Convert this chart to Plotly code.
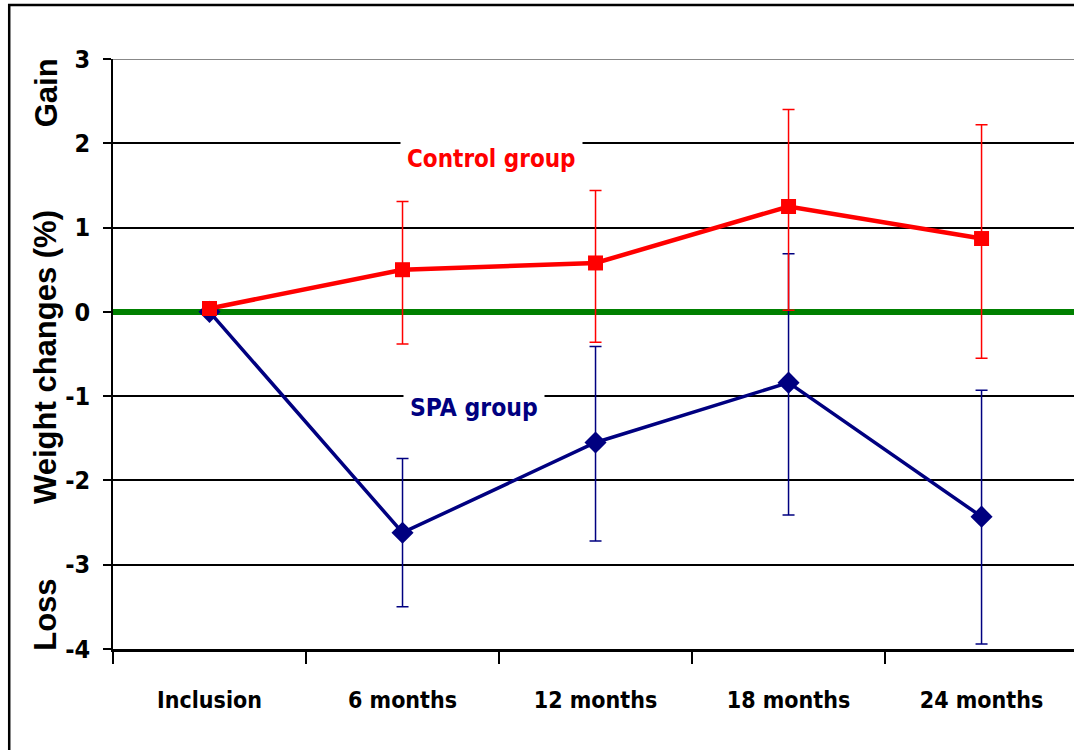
import plotly.graph_objects as go

# Follow-up time points
categories = ["Inclusion", "6 months", "12 months", "18 months", "24 months"]

# Mean weight change (%) and error bar extents per group
control_mean = [0.04, 0.50, 0.58, 1.25, 0.87]
control_err_plus = [0.0, 0.81, 0.86, 1.15, 1.35]
control_err_minus = [0.0, 0.88, 0.94, 1.23, 1.42]

spa_mean = [0.0, -2.62, -1.55, -0.84, -2.43]
spa_err_plus = [0.0, 0.88, 1.14, 1.53, 1.50]
spa_err_minus = [0.0, 0.88, 1.17, 1.57, 1.51]

y_ticks = [3, 2, 1, 0, -1, -2, -3, -4]

RED = "#ff0000"
NAVY = "#000080"
GREEN = "#008000"
NARROW = "DejaVu Sans Condensed, Liberation Sans Narrow, sans-serif"
WIDE = "Liberation Sans, Arial, sans-serif"

fig = go.Figure()

fig.add_trace(go.Scatter(
    x=categories, y=spa_mean, mode="lines+markers", name="SPA group",
    line=dict(color=NAVY, width=3.5),
    marker=dict(symbol="diamond", size=17, color=NAVY),
    error_y=dict(type="data", symmetric=False, array=spa_err_plus,
                 arrayminus=spa_err_minus, color=NAVY, thickness=1.5, width=6),
    cliponaxis=False,
))

fig.add_trace(go.Scatter(
    x=categories, y=control_mean, mode="lines+markers", name="Control group",
    line=dict(color=RED, width=4.5),
    marker=dict(symbol="square", size=15, color=RED),
    error_y=dict(type="data", symmetric=False, array=control_err_plus,
                 arrayminus=control_err_minus, color=RED, thickness=1.5, width=6),
    cliponaxis=False,
))

fig.update_layout(
    width=1074, height=750,
    margin=dict(l=113, r=0, t=59, b=101),
    paper_bgcolor="white", plot_bgcolor="white",
    showlegend=False,
    xaxis=dict(
        type="category", categoryorder="array", categoryarray=categories,
        range=[-0.5, 4.479], tickson="boundaries",
        showgrid=False, showline=True, linecolor="black", linewidth=3,
        ticks="outside", ticklen=12, tickwidth=1.5, tickcolor="black",
        ticklabelstandoff=28,
        tickfont=dict(family=NARROW, size=23, color="black", weight="bold"),
    ),
    yaxis=dict(
        range=[-4, 3], tickvals=y_ticks, ticktext=[str(v) for v in y_ticks],
        showgrid=True, gridcolor="black", gridwidth=2,
        zeroline=True, zerolinecolor=GREEN, zerolinewidth=6,
        showline=True, linecolor="black", linewidth=1.5,
        ticks="outside", ticklen=8, tickwidth=1.5, tickcolor="black",
        ticklabelstandoff=8,
        tickfont=dict(family=NARROW, size=25, color="black", weight="bold"),
    ),
    shapes=[
        # gray top gridline
        dict(type="line", xref="paper", yref="y", x0=0, x1=1, y0=3, y1=3,
             line=dict(color="#888888", width=2), layer="between"),
        # outer frame
        dict(type="rect", xref="paper", yref="paper", x0=-0.108, x1=1.05,
             y0=-0.3, y1=1.0915, line=dict(color="black", width=2.5),
             fillcolor="rgba(0,0,0,0)", layer="above"),
    ],
    annotations=[
        dict(text="Control group", xref="paper", yref="y", x=0.394, y=1.81,
             xanchor="center", yanchor="middle",
             showarrow=False, bgcolor="white", borderpad=6,
             font=dict(family=NARROW, size=24, color=RED, weight="bold")),
        dict(text="SPA group", xref="paper", yref="y", x=0.376, y=-1.13,
             xanchor="center", yanchor="middle",
             showarrow=False, bgcolor="white", borderpad=6,
             font=dict(family=NARROW, size=24.5, color=NAVY, weight="bold")),
        dict(text="Weight changes (%)", xref="paper", yref="paper",
             x=-0.0697, y=0.495, textangle=-90, showarrow=False,
             xanchor="center", yanchor="middle",
             font=dict(family=WIDE, size=31, color="black", weight="bold")),
        dict(text="Gain", xref="paper", yref="paper",
             x=-0.0697, y=0.942, textangle=-90, showarrow=False,
             xanchor="center", yanchor="middle",
             font=dict(family=WIDE, size=31, color="black", weight="bold")),
        dict(text="Loss", xref="paper", yref="paper",
             x=-0.0697, y=0.058, textangle=-90, showarrow=False,
             xanchor="center", yanchor="middle",
             font=dict(family=WIDE, size=31, color="black", weight="bold")),
    ],
)

fig.write_html("out.html")
